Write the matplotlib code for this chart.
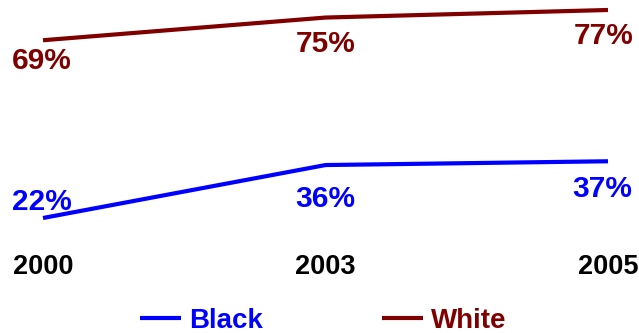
import matplotlib
matplotlib.use("Agg")
import matplotlib.pyplot as plt

years = ["2000", "2003", "2005"]
black = [22, 36, 37]
white = [69, 75, 77]
black_labels = ["22%", "36%", "37%"]
white_labels = ["69%", "75%", "77%"]

BLUE = "#0000FF"
RED = "#800000"
FONT = "Liberation Sans"

fig = plt.figure(figsize=(6.39, 3.33), dpi=100)
ax = fig.add_axes([0, 1 - 245 / 333, 1, 245 / 333])
x = list(range(len(years)))

lb, = ax.plot(x, black, color=BLUE, lw=3, solid_capstyle="butt", label="Black")
lw_, = ax.plot(x, white, color=RED, lw=3, solid_capstyle="butt", label="White")

ax.set_xlim(-43 / 282.5, (639 - 43) / 282.5)
ax.set_ylim(14.86, 79.64)

# label offsets in pixels (dx, dy of baseline center)
white_off = [(-1, -29), (0, -34), (-4, -34)]
black_off = [(-1, 8), (0, -42), (-6, -36)]
for xi, v, t, o in zip(x, white, white_labels, white_off):
    ax.annotate(t, (xi, v), xytext=o, textcoords="offset pixels", ha="center",
                va="baseline", color=RED, fontsize=21.5, fontweight="bold", family=FONT)
for xi, v, t, o in zip(x, black, black_labels, black_off):
    ax.annotate(t, (xi, v), xytext=o, textcoords="offset pixels", ha="center",
                va="baseline", color=BLUE, fontsize=21.5, fontweight="bold", family=FONT)

ax.set_xticks(x)
ax.set_xticklabels(years, fontsize=19.5, fontweight="bold", family=FONT)
ax.tick_params(axis="x", length=0, pad=6.5)
ax.set_yticks([])
for s in ax.spines.values():
    s.set_visible(False)

fig.legend(handles=[lb, lw_], loc="center", bbox_to_anchor=(0.506, 0.036), ncol=2,
           frameon=False, handlelength=1.45, handletextpad=0.3, columnspacing=4.3,
           prop={"family": FONT, "weight": "bold", "size": 20})
leg = fig.legends[0]
for t, c in zip(leg.get_texts(), [BLUE, RED]):
    t.set_color(c)

fig.savefig("out.png", dpi=100)
